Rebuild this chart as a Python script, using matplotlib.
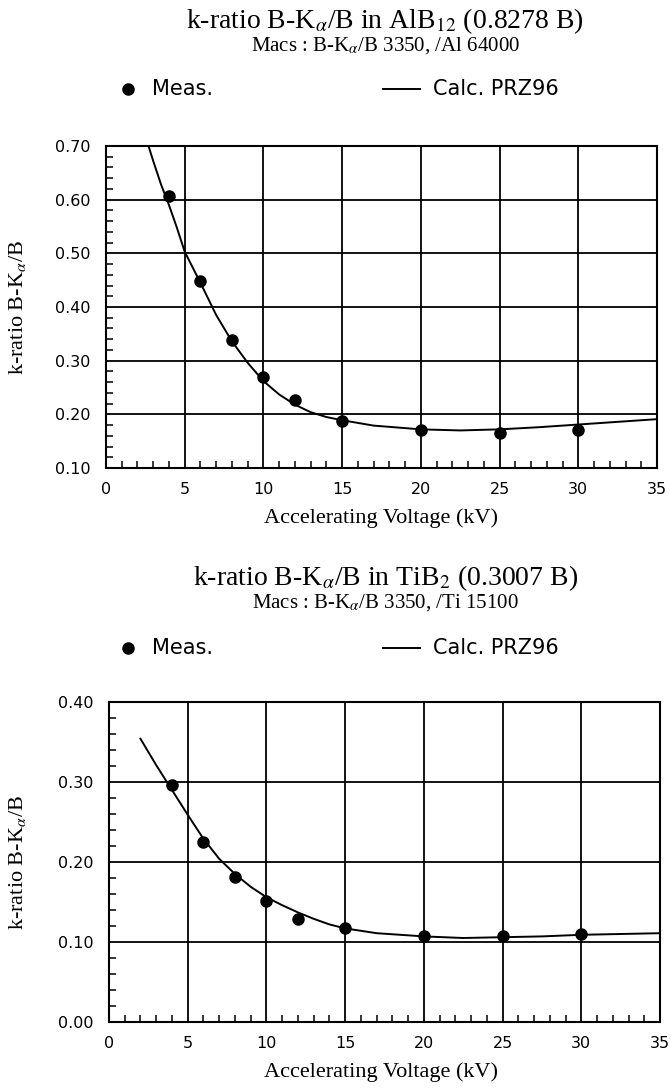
import matplotlib
matplotlib.use("Agg")
import matplotlib.pyplot as plt
from matplotlib.lines import Line2D
from matplotlib.ticker import MultipleLocator, FormatStrFormatter

plt.rcParams["mathtext.fontset"] = "stix"
SERIF = "Liberation Serif"
SANS = "DejaVu Sans"

# ---- AlB12 (0.8278 B) ----
alb_meas_kv = [4, 6, 8, 10, 12, 15, 20, 25, 30]
alb_meas_k = [0.607, 0.449, 0.339, 0.269, 0.227, 0.188, 0.170, 0.166, 0.170]
alb_calc_kv = [2.7, 3, 3.5, 4, 4.5, 5, 6, 7, 8, 9, 10, 11, 12, 13, 14, 15,
               17, 20, 22.5, 25, 27.5, 30, 32.5, 35]
alb_calc_k = [0.700, 0.672, 0.628, 0.590, 0.548, 0.503, 0.445, 0.385, 0.336,
              0.296, 0.262, 0.237, 0.218, 0.204, 0.195, 0.189, 0.179, 0.172,
              0.170, 0.172, 0.176, 0.181, 0.186, 0.191]

# ---- TiB2 (0.3007 B) ----
tib_meas_kv = [4, 6, 8, 10, 12, 15, 20, 25, 30]
tib_meas_k = [0.296, 0.225, 0.181, 0.151, 0.129, 0.117, 0.107, 0.107, 0.110]
tib_calc_kv = [2, 3, 4, 5, 6, 7, 8, 9, 10, 11, 12, 13, 14, 15, 17, 20,
               22.5, 25, 27.5, 30, 32.5, 35]
tib_calc_k = [0.354, 0.321, 0.290, 0.259, 0.229, 0.204, 0.185, 0.169, 0.156,
              0.146, 0.137, 0.129, 0.122, 0.117, 0.111, 0.107, 0.105, 0.106,
              0.107, 0.109, 0.110, 0.111]

H = 1088.0
W = 670.0

panels = [
    dict(title=r"k-ratio B-K$_{\alpha}$/B in AlB$_{12}$ (0.8278 B)",
         sub=r"Macs : B-K$_{\alpha}$/B 3350, /Al 64000",
         mkv=alb_meas_kv, mk=alb_meas_k, ckv=alb_calc_kv, ck=alb_calc_k,
         ylim=(0.10, 0.70), rect=[106 / W, 1 - 468 / H, 551 / W, 322 / H],
         title_y=1 - 21 / H, sub_y=1 - 46 / H, leg_y=1 - 89 / H,
         xlabel_y=1 - 518 / H),
    dict(title=r"k-ratio B-K$_{\alpha}$/B in TiB$_{2}$ (0.3007 B)",
         sub=r"Macs : B-K$_{\alpha}$/B 3350, /Ti 15100",
         mkv=tib_meas_kv, mk=tib_meas_k, ckv=tib_calc_kv, ck=tib_calc_k,
         ylim=(0.00, 0.40), rect=[109 / W, 1 - 1022 / H, 551 / W, 320 / H],
         title_y=1 - 578 / H, sub_y=1 - 603 / H, leg_y=1 - 648 / H,
         xlabel_y=1 - 1072 / H),
]

fig = plt.figure(figsize=(W / 100, H / 100), dpi=100)

for p in panels:
    ax = fig.add_axes(p["rect"])
    ax.plot(p["ckv"], p["ck"], color="black", lw=1.4, zorder=3)
    ax.plot(p["mkv"], p["mk"], "o", color="black", ms=8, zorder=4)
    ax.set_xlim(0, 35)
    ax.set_ylim(*p["ylim"])
    ax.xaxis.set_major_locator(MultipleLocator(5))
    ax.xaxis.set_minor_locator(MultipleLocator(1))
    ax.yaxis.set_major_locator(MultipleLocator(0.10))
    ax.yaxis.set_minor_locator(MultipleLocator(0.02))
    ax.yaxis.set_major_formatter(FormatStrFormatter("%.2f"))
    ax.grid(True, which="major", color="black", lw=1.3)
    ax.tick_params(which="both", direction="in", top=False, right=False,
                   colors="black", labelsize=11.5, width=1.1)
    ax.tick_params(axis="y", which="major", length=0, pad=11)
    ax.tick_params(axis="x", which="major", length=0, pad=10)
    ax.tick_params(which="minor", length=5)
    for lab in ax.get_xticklabels() + ax.get_yticklabels():
        lab.set_fontfamily(SANS)
    for s in ax.spines.values():
        s.set_linewidth(1.5)
        s.set_color("black")

    fig.text(0.575, p["title_y"], p["title"], ha="center", va="center",
             fontsize=20, family=SERIF)
    fig.text(0.575, p["sub_y"], p["sub"], ha="center", va="center",
             fontsize=15, family=SERIF)
    fig.text(0.569, p["xlabel_y"], "Accelerating Voltage (kV)", ha="center",
             va="center", fontsize=16, family=SERIF)
    fig.text(18 / W, p["rect"][1] + p["rect"][3] / 2,
             r"k-ratio B-K$_{\alpha}$/B", ha="center", va="center",
             rotation=90, fontsize=16, family=SERIF)

    # legend row
    ly = p["leg_y"]
    fig.add_artist(Line2D([128 / W], [ly], marker="o", color="black",
                          ms=8, ls="none"))
    fig.text(152 / W, ly, "Meas.", ha="left", va="center", fontsize=15,
             family=SANS)
    fig.add_artist(Line2D([383 / W, 420 / W], [ly, ly], color="black",
                          lw=1.4))
    fig.text(433 / W, ly, "Calc. PRZ96", ha="left", va="center",
             fontsize=15, family=SANS)

fig.savefig("out.png", dpi=100, facecolor="white")
